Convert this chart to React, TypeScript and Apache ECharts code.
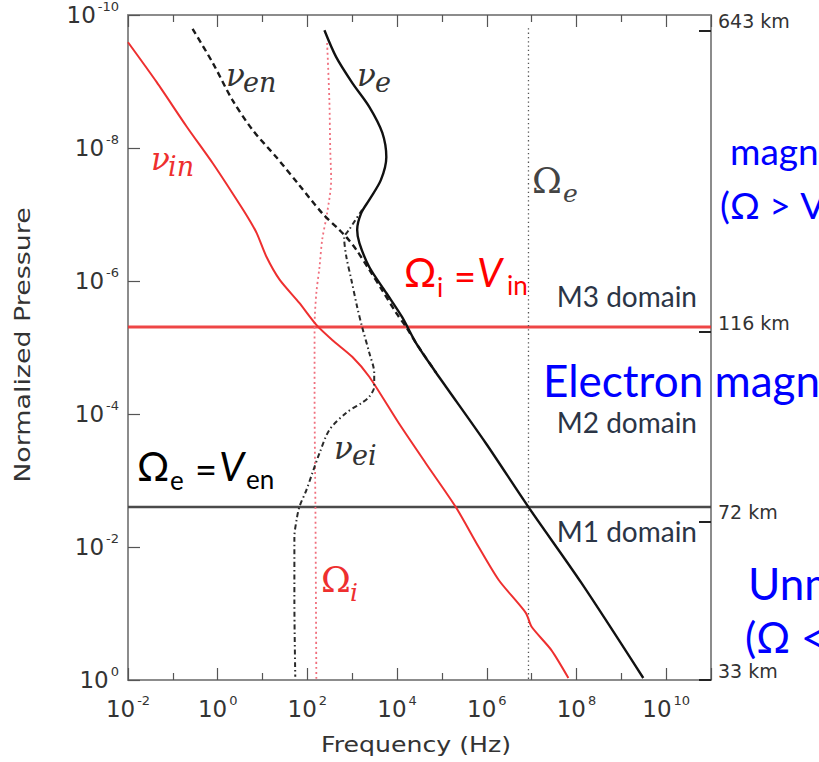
import React, { useEffect, useRef } from "react";
import * as echarts from "echarts";

// All curves are stored as [log10(frequency / Hz), log10(normalized pressure)].
const nuIn: [number, number][] = [
  [-2.0, -9.59], [-1.36, -8.99], [-0.69, -8.32], [-0.11, -7.77], [0.33, -7.32],
  [0.67, -6.96], [0.87, -6.72], [1.09, -6.36], [1.38, -6.02], [1.82, -5.67],
  [2.2, -5.34], [2.56, -5.11], [3.0, -4.86], [3.38, -4.56], [4.04, -3.86],
  [4.64, -3.26], [5.31, -2.6], [5.82, -2.0], [6.27, -1.5], [6.87, -1.01],
  [7.0, -0.8], [7.44, -0.45], [7.82, -0.03],
];

const nuE: [number, number][] = [
  [2.38, -9.77], [2.64, -9.37], [3.0, -8.98], [3.38, -8.62], [3.67, -8.23],
  [3.76, -7.86], [3.64, -7.52], [3.38, -7.22], [3.2, -7.02], [3.11, -6.77],
  [3.16, -6.57], [3.38, -6.21], [3.76, -5.82], [4.11, -5.46], [4.42, -5.07],
  [4.87, -4.62], [5.09, -4.41], [5.98, -3.56], [6.93, -2.6], [8.11, -1.46],
  [9.49, -0.03],
];

const nuEn: [number, number][] = [
  [-0.56, -9.79], [-0.11, -9.28], [0.33, -8.72], [0.78, -8.27], [1.31, -7.86],
  [1.82, -7.44], [2.33, -7.02], [2.71, -6.77], [2.87, -6.66], [3.09, -6.47],
  [3.38, -6.17], [3.67, -5.86], [3.98, -5.52], [4.2, -5.31], [4.42, -5.07],
  [4.87, -4.62],
];

const nuEi: [number, number][] = [
  [3.22, -7.07], [2.93, -6.77], [2.82, -6.65], [2.87, -6.36], [2.98, -6.02],
  [3.11, -5.61], [3.22, -5.31], [3.38, -4.92], [3.49, -4.62], [3.49, -4.41],
  [3.38, -4.26], [3.22, -4.17], [2.87, -4.02], [2.49, -3.76], [2.27, -3.41],
  [2.11, -3.11], [1.98, -2.86], [1.82, -2.6], [1.76, -2.41], [1.71, -2.15],
  [1.71, -1.2], [1.73, -0.05],
];

// Gyrofrequencies
const omegaI: [number, number][] = [
  [2.44, -9.58], [2.49, -8.72], [2.51, -7.97], [2.53, -7.52], [2.44, -7.02],
  [2.33, -6.62], [2.27, -6.21], [2.2, -5.82], [2.16, -5.31], [2.16, -4.32],
  [2.18, -2.5], [2.2, 0],
];
const omegaE: [number, number][] = [[6.93, -9.8], [6.93, 0]];

// Domain boundaries (log10 pressure)
const ionBoundary = -5.31;
const electronBoundary = -2.6;
const freqRange: [number, number] = [-2, 11];
const presRange: [number, number] = [-10, 0];

// Altitude scale on the right
const altitudePressure = [-9.77, -5.23, -2.38, 0];
const altitudeLabels = ["643 km", "116 km", "72 km", "33 km"];

const SANS = "Lato";
const SERIF = "DejaVu Serif";
const AXIS_FONT = "DejaVu Sans";

type TOpts = { italic?: boolean; align?: string; family?: string };
const txt = (text: string, x: number, y: number, size: number, color: string, o: TOpts = {}) => ({
  type: "text",
  x,
  y,
  silent: true,
  z: 100,
  style: {
    text,
    fontSize: size,
    fontFamily: o.family || SANS,
    fontStyle: o.italic ? "italic" : "normal",
    fill: color,
    align: o.align || "left",
    verticalAlign: "middle",
  },
});

const expLabel = (v: number) => (Math.round(v) % 2 === 0 ? `{b|10}{s|${Math.round(v)}}` : "");
const expRich = {
  b: { fontSize: 23, fontFamily: AXIS_FONT, color: "#333", lineHeight: 30 },
  s: { fontSize: 13, fontFamily: AXIS_FONT, color: "#333", verticalAlign: "top", padding: [0, 0, 0, 2] },
};

const lineSeries = (name: string, data: [number, number][], color: string, width: number, type: any, smooth = 0.25) => ({
  name,
  type: "line",
  data,
  showSymbol: false,
  smooth,
  lineStyle: { color, width, type },
  silent: true,
});

export default function App() {
  const ref = useRef<HTMLDivElement>(null);

  useEffect(() => {
    if (!ref.current) return;
    const chart = echarts.init(ref.current, null, { renderer: "svg" });

    const frame = { show: true, onZero: false, lineStyle: { color: "#8c8c8c", width: 2 } };
    const xBase = {
      type: "value",
      min: freqRange[0],
      max: freqRange[1],
      interval: 2,
      axisLine: frame,
      splitLine: { show: false },
      axisTick: { show: true, inside: true, length: 12, lineStyle: { color: "#555", width: 1.2 } },
      minorTick: { show: true, splitNumber: 2, length: 7, lineStyle: { color: "#555", width: 1.2 } },
    };

    const option: any = {
      animation: false,
      backgroundColor: "#fff",
      grid: { left: 128, top: 15, right: 108, bottom: 82, containLabel: false, outerBoundsMode: "none" },
      xAxis: [
        {
          ...xBase,
          position: "bottom",
          axisLabel: { formatter: expLabel, rich: expRich, margin: 14, showMaxLabel: false },
        },
        { ...xBase, position: "top", axisLabel: { show: false } },
      ],
      yAxis: [
        {
          type: "value",
          min: presRange[0],
          max: presRange[1],
          interval: 2,
          inverse: true,
          position: "left",
          axisLine: frame,
          splitLine: { show: false },
          axisTick: { show: true, inside: true, length: 12, lineStyle: { color: "#555", width: 1.2 } },
          axisLabel: { formatter: expLabel, rich: expRich, margin: 9 },
        },
        {
          type: "value",
          min: presRange[0],
          max: presRange[1],
          inverse: true,
          position: "right",
          axisLine: frame,
          splitLine: { show: false },
          axisTick: {
            show: true,
            inside: true,
            length: 12,
            customValues: altitudePressure,
            lineStyle: { color: "#222", width: 2 },
          },
          axisLabel: {
            customValues: altitudePressure,
            formatter: (v: number) => {
              const i = altitudePressure.findIndex((p) => Math.abs(p - v) < 1e-6);
              return i >= 0 ? altitudeLabels[i] : "";
            },
            fontFamily: AXIS_FONT,
            fontSize: 19,
            color: "#333",
            margin: 7,
            verticalAlign: "bottom",
          },
        },
      ],
      series: [
        lineSeries("ion boundary", [[freqRange[0], ionBoundary], [freqRange[1], ionBoundary]], "rgba(236,50,50,0.9)", 3, "solid", 0),
        lineSeries("electron boundary", [[freqRange[0], electronBoundary], [freqRange[1], electronBoundary]], "#4a4a4a", 2.5, "solid", 0),
        lineSeries("Omega_i", omegaI, "#f0707e", 1.8, [2, 3], 0.3),
        lineSeries("Omega_e", omegaE, "#555", 1.3, [1.3, 3], 0),
        lineSeries("nu_in", nuIn, "#ee2f2f", 2, "solid", 0.25),
        lineSeries("nu_en", nuEn, "#1a1a1a", 2.4, [6, 4], 0.3),
        lineSeries("nu_ei", nuEi, "#2a2a2a", 2, [5, 3, 1.5, 3], 0.3),
        lineSeries("nu_e", nuE, "#111", 2.4, "solid", 0.3),
      ],
      graphic: [
        // Axis titles
        {
          type: "text",
          x: 416,
          y: 744,
          scaleX: 1.2,
          silent: true,
          style: { text: "Frequency (Hz)", fontFamily: AXIS_FONT, fontSize: 21, fill: "#333", align: "center", verticalAlign: "middle" },
        },
        {
          type: "text",
          x: 23,
          y: 345,
          rotation: Math.PI / 2,
          scaleX: 1.28,
          silent: true,
          style: { text: "Normalized Pressure", fontFamily: AXIS_FONT, fontSize: 21, fill: "#333", align: "center", verticalAlign: "middle" },
        },
        // Curve labels
        txt("ν", 226, 75, 31, "#333", { italic: true, family: SERIF }),
        txt("en", 243, 82, 27, "#333", { italic: true, family: SERIF }),
        txt("ν", 357, 75, 31, "#333", { italic: true, family: SERIF }),
        txt("e", 375, 82, 27, "#333", { italic: true, family: SERIF }),
        txt("ν", 151, 159, 31, "#ee2f2f", { italic: true, family: SERIF }),
        txt("in", 168, 166, 27, "#ee2f2f", { italic: true, family: SERIF }),
        txt("ν", 334, 448, 31, "#333", { italic: true, family: SERIF }),
        txt("ei", 352, 455, 27, "#333", { italic: true, family: SERIF }),
        txt("Ω", 532, 180, 36, "#444", { family: SERIF }),
        txt("e", 563, 193, 25, "#444", { italic: true, family: SERIF }),
        txt("Ω", 321, 579, 36, "#ee2f2f", { family: SERIF }),
        txt("i", 350, 592, 25, "#ee2f2f", { italic: true, family: SERIF }),
        // Equality annotations
        txt("Ω", 404, 272, 40, "#ff0000"),
        txt("i", 437, 287, 26, "#ff0000"),
        txt("=", 454, 276, 38, "#ff0000"),
        txt("V", 477, 272, 40, "#ff0000", { italic: true }),
        txt("in", 507, 285, 26, "#ff0000"),
        txt("Ω", 137, 466, 40, "#000"),
        txt("e", 170, 480, 26, "#000"),
        txt("=", 195, 469, 38, "#000"),
        txt("V", 219, 466, 40, "#000", { italic: true }),
        txt("en", 246, 479, 26, "#000"),
        // Domain names
        txt("M3 domain", 697, 296, 28, "#2b3546", { align: "right" }),
        txt("M2 domain", 697, 422, 28, "#2b3546", { align: "right" }),
        txt("M1 domain", 697, 531, 28, "#2b3546", { align: "right" }),
        // Regime annotations
        txt("magnetized", 730, 150, 37, "#0000ff"),
        txt("(Ω > V)", 720, 204, 37, "#0000ff"),
        txt("Electron magnetized", 543, 380, 44, "#0000ff"),
        txt("Unmagnetized", 748, 583, 44, "#0000ff"),
        txt("(Ω < V)", 745, 637, 42, "#0000ff"),
      ],
    };

    chart.setOption(option);
    return () => chart.dispose();
  }, []);

  return (
    <div
      ref={ref}
      style={{ position: "absolute", left: 0, top: 0, width: 819, height: 762, overflow: "hidden", background: "#fff" }}
    />
  );
}
